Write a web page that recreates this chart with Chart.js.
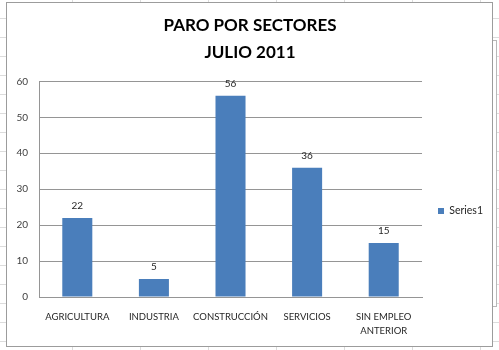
<!DOCTYPE html>
<html>
<head>
<meta charset="utf-8">
<script src="https://cdn.jsdelivr.net/npm/chart.js@4"></script>
<style>
  html, body { margin:0; padding:0; width:499px; height:350px; overflow:hidden; }
  body {
    background-color:#ffffff;
    background-image:
      repeating-linear-gradient(to bottom, transparent 0px, transparent 18px, #dcdcdc 18px, #dcdcdc 19px),
      repeating-linear-gradient(to right, transparent 0px, transparent 67px, #dcdcdc 67px, #dcdcdc 68px);
    background-position: 0 0, 5px 0;
    position:relative;
  }
  #side { position:absolute; left:493px; top:40px; width:3px; height:265px; border:1px solid #b8b8b8; border-left:none; background:#fff; }
  #box { position:absolute; left:6px; top:2px; width:485px; height:343px; border:1px solid #9c9c9c; background:#fff; }
  canvas { display:block; }
</style>
</head>
<body>
<div id="side"></div>
<div id="box"><canvas id="c" width="485" height="343"></canvas></div>
<script>
const titleLines = ["PARO POR SECTORES", "JULIO 2011"];
const categories = ["AGRICULTURA", "INDUSTRIA", "CONSTRUCCIÓN", "SERVICIOS", ["SIN EMPLEO", "ANTERIOR"]];
const seriesName = "Series1";
const values = [22, 5, 56, 36, 15];
const yTicks = [0, 10, 20, 30, 40, 50, 60];

const FONT = "Lato, 'Open Sans', sans-serif";

const dataLabels = {
  id: 'dataLabels',
  afterDatasetsDraw(chart) {
    const ctx = chart.ctx;
    const meta = chart.getDatasetMeta(0);
    ctx.save();
    ctx.font = "10px " + FONT;
    ctx.fillStyle = "#262626";
    ctx.textAlign = "center";
    ctx.textBaseline = "middle";
    meta.data.forEach((bar, i) => {
      ctx.fillText(String(values[i]), bar.x, bar.y - 12);
    });
    ctx.restore();
  }
};

new Chart(document.getElementById('c'), {
  type: 'bar',
  data: {
    labels: categories,
    datasets: [{
      label: seriesName,
      data: values,
      backgroundColor: '#4A7EBB',
      borderWidth: 0,
      categoryPercentage: 0.8,
      barPercentage: 0.49
    }]
  },
  options: {
    responsive: false,
    animation: false,
    layout: { padding: { left: 0, right: -1, top: 0, bottom: 0 } },
    plugins: {
      title: {
        display: true,
        text: titleLines,
        color: '#000000',
        font: { family: FONT, size: 17, weight: 'bold', lineHeight: 1.6 },
        padding: { top: 9, bottom: 15 }
      },
      legend: {
        display: true,
        position: 'right',
        title: { display: true, text: ' ', font: { size: 1, lineHeight: 1 }, padding: { top: 72, bottom: 0 } },
        labels: {
          boxWidth: 6,
          boxHeight: 6,
          color: '#262626',
          font: { family: FONT, size: 10.5 },
          padding: 16
        }
      },
      tooltip: { enabled: false }
    },
    scales: {
      y: {
        min: 0, max: 60,
        afterBuildTicks(axis) { axis.ticks = yTicks.map(v => ({ value: v })); },
        afterFit(scale) { scale.width = 32; scale.paddingTop = 0; scale.paddingBottom = 0; },
        ticks: { color: '#404040', font: { family: FONT, size: 10 }, padding: 11 },
        grid: { color: '#959595', drawTicks: false },
        border: { display: true, color: '#959595' }
      },
      x: {
        afterFit(scale) { scale.height = 49; scale.paddingLeft = 0; scale.paddingRight = 0; },
        ticks: { color: '#262626', font: { family: FONT, size: 9.5, lineHeight: 1.45 }, padding: 13, maxRotation: 0, autoSkip: false },
        grid: { display: false, drawTicks: false },
        border: { display: true, color: '#959595' }
      }
    }
  },
  plugins: [dataLabels]
});
</script>
</body>
</html>
